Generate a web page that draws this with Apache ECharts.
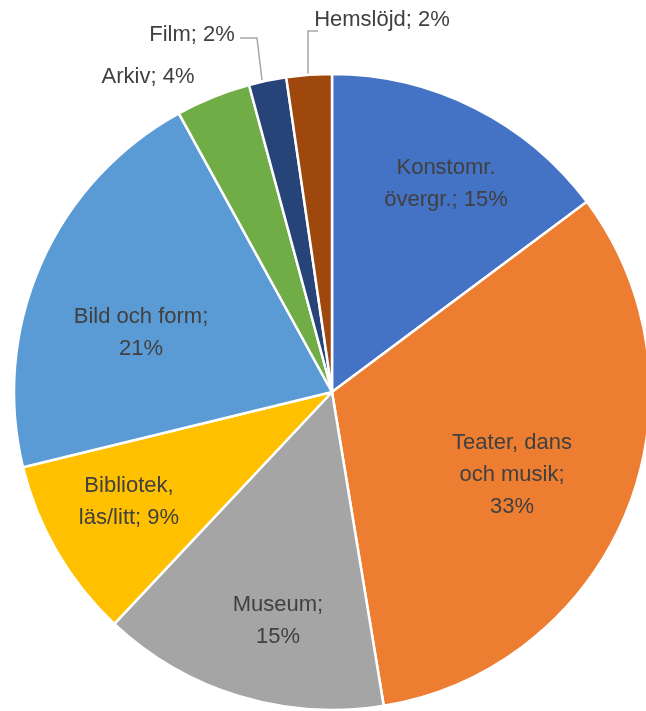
<!DOCTYPE html>
<html>
<head>
<meta charset="utf-8">
<script src="https://cdn.jsdelivr.net/npm/echarts@6/dist/echarts.min.js"></script>
<style>
  html, body { margin: 0; padding: 0; background: #ffffff; }
  #chart { width: 646px; height: 711px; }
</style>
</head>
<body>
<div id="chart"></div>
<script>
// slices, clockwise from 12 o'clock
const categories = ['Konstomr.\növergr.', 'Teater, dans\noch musik', 'Museum', 'Bibliotek,\nläs/litt', 'Bild och form', 'Arkiv', 'Film', 'Hemslöjd']
const shares = [14.8, 32.6, 14.6, 9.2, 20.8, 3.8, 1.9, 2.3]
const percentBreak = [false, true, true, false, true, false, false, false]
const colors = ['#4472c4', '#ed7d31', '#a5a5a5', '#ffc000', '#5b9bd5', '#70ad47', '#264478', '#9e480e']

// label anchor (centre of text block) and optional leader line
const labelPos = [[446, 184], [512, 475], [278, 621], [129, 502], [141, 333], [148, 77], [192, 35], [382, 20]]
const leaderLines = {
  6: [[262, 80], [257, 38], [240, 38]],
  7: [[308, 75], [308, 31], [318, 31]]
}

const total = shares.reduce((a, b) => a + b, 0)

const chart = echarts.init(document.getElementById('chart'))

const option = {
  backgroundColor: '#ffffff',
  animation: false,
  series: [
    {
      type: 'pie',
      center: [332, 392],
      radius: 318,
      startAngle: 90,
      clockwise: true,
      avoidLabelOverlap: false,
      itemStyle: {
        borderColor: '#ffffff',
        borderWidth: 2.5
      },
      label: {
        show: true,
        position: 'outside',
        color: '#404040',
        fontFamily: 'Liberation Sans',
        fontSize: 22,
        lineHeight: 32,
        align: 'center',
        verticalAlign: 'middle',
        formatter: p => {
          const pct = Math.round(p.value / total * 100) + '%'
          return p.name + ';' + (percentBreak[p.dataIndex] ? '\n' : ' ') + pct
        }
      },
      labelLine: {
        show: true,
        lineStyle: { color: '#a6a6a6', width: 1.5 }
      },
      labelLayout: params => {
        const i = params.dataIndex
        const res = {
          x: labelPos[i][0],
          y: labelPos[i][1],
          align: 'center',
          verticalAlign: 'middle'
        }
        if (leaderLines[i]) res.labelLinePoints = leaderLines[i]
        return res
      },
      data: categories.map((name, i) => ({
        name: name,
        value: shares[i],
        itemStyle: { color: colors[i] },
        labelLine: { show: !!leaderLines[i] }
      }))
    }
  ]
}

chart.setOption(option)
</script>
</body>
</html>
